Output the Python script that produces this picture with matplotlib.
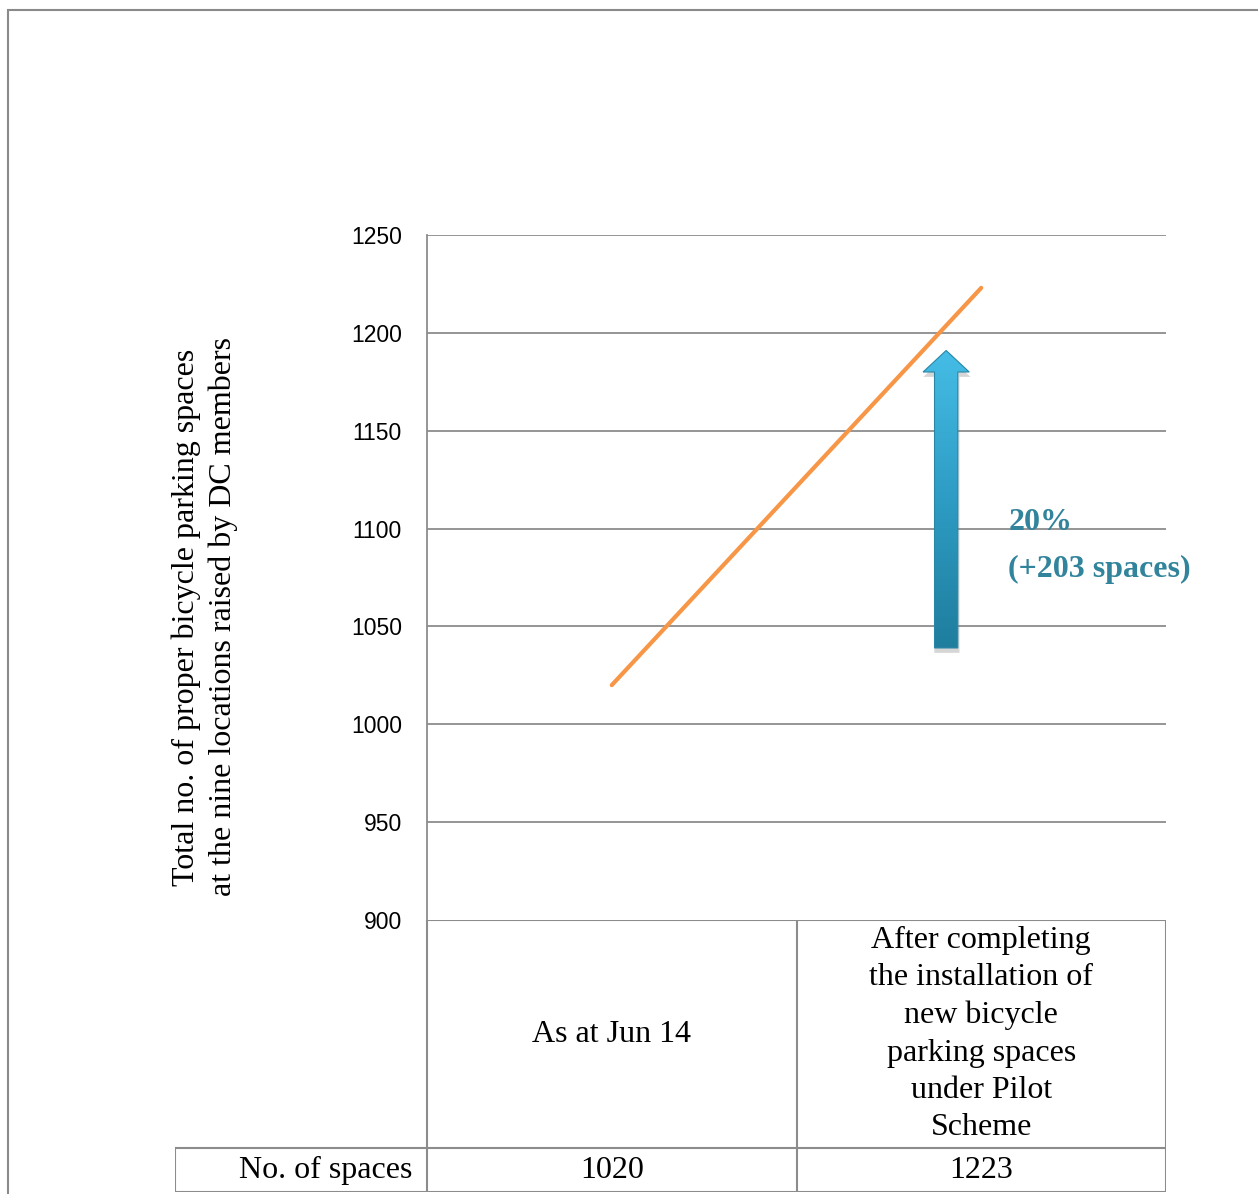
import numpy as np
import matplotlib.pyplot as plt
from matplotlib.patches import FancyArrow, Rectangle
from matplotlib.lines import Line2D
from matplotlib.colors import LinearSegmentedColormap

categories = ["As at Jun 14",
              "After completing\nthe installation of\nnew bicycle\nparking spaces\nunder Pilot\nScheme"]
spaces = [1020, 1223]
row_label = "No. of spaces"
yticks = [900, 950, 1000, 1050, 1100, 1150, 1200, 1250]
ylabel = "Total no. of proper bicycle parking spaces\nat the nine locations raised by DC members"
note = "20%\n(+203 spaces)"

W, H = 1258, 1194
fig = plt.figure(figsize=(W / 100, H / 100), dpi=100)

serif = ["Liberation Serif", "DejaVu Serif"]
narrow = ["Liberation Sans Narrow", "Liberation Sans", "DejaVu Sans"]
grid_col = "#8c8c8c"

# outer frame of the chart area (right / bottom edges cut off)
fig.patches.append(Rectangle((8 / W, -0.05), 1.2, 1 - 10 / H + 0.05,
                             transform=fig.transFigure, fill=False,
                             edgecolor="#8a8a8a", lw=1.5))

ax = fig.add_axes([427 / W, 1 - 920 / H, (1166 - 427) / W, (920 - 235) / H])
x = np.arange(len(categories)) + 0.5
ax.plot(x, spaces, color="#F79646", lw=3, solid_capstyle="round", zorder=3)

ax.set_xlim(0, len(categories))
ax.set_ylim(yticks[0], yticks[-1])
ax.set_yticks(yticks)
ax.set_yticklabels([str(t) for t in yticks], family=narrow, fontsize=16.5)
ax.set_xticks([])
ax.tick_params(axis="y", length=0, pad=18)
for t in yticks[1:]:
    ax.axhline(t, color=grid_col, lw=1.3, zorder=1)
for s in ["top", "right", "bottom"]:
    ax.spines[s].set_visible(False)
ax.spines["left"].set_color(grid_col)
ax.spines["left"].set_linewidth(1.3)

# arrow showing the increase (shadow + gradient fill)
ax.add_patch(FancyArrow(1.407, 1036.5, 0, 141, width=0.068, head_width=0.128,
                        head_length=11, length_includes_head=False,
                        facecolor="#7a7a7a", edgecolor="none", alpha=0.3, zorder=2))
arrow = FancyArrow(1.405, 1039, 0, 141, width=0.063, head_width=0.125,
                   head_length=11, length_includes_head=False,
                   facecolor="none", edgecolor="#2a86a6", lw=0.8, zorder=5)
ax.add_patch(arrow)
grad = LinearSegmentedColormap.from_list("g", ["#1F7E9E", "#2E9CC4", "#45BDE6"])
img = ax.imshow(np.linspace(0, 1, 100).reshape(-1, 1), cmap=grad, origin="lower",
                extent=(1.34, 1.47, 1039, 1192), aspect="auto", zorder=4)
img.set_clip_path(arrow)
ax.set_xlim(0, len(categories))
ax.set_ylim(yticks[0], yticks[-1])

ax.text(1.573, 1091, note, color="#31849B", family=serif, fontsize=23,
        fontweight="bold", ha="left", va="center", linespacing=1.8)

fig.text(205 / W, 1 - 617 / H, ylabel, rotation=90, ha="center", va="center",
         family=serif, fontsize=23, multialignment="center", linespacing=1.35)

# data table below the plot
tab = fig.add_axes([175 / W, 1 - 1192 / H, (1166 - 175) / W, (1192 - 920) / H])
px_per_unit = (1166 - 427) / len(categories)
tab.set_xlim(-(427 - 175) / px_per_unit, len(categories))
tab.set_ylim(0, 1)
tab.axis("off")
split = (1192 - 1148) / (1192 - 920)
lx = tab.get_xlim()[0]
lk = dict(color=grid_col, lw=1.5)
tab.add_line(Line2D([0, 2], [1, 1], **lk))
tab.add_line(Line2D([lx, 2], [split, split], **lk))
tab.add_line(Line2D([lx, 2], [0, 0], **lk))
tab.add_line(Line2D([lx, lx], [0, split], **lk))
for xv in range(len(categories) + 1):
    tab.add_line(Line2D([xv, xv], [0, 1], **lk))
for i, (c, v) in enumerate(zip(categories, spaces)):
    tab.text(i + 0.5, (1 + split) / 2, c, ha="center", va="center",
             family=serif, fontsize=23, linespacing=1.38)
    tab.text(i + 0.5, split / 2, str(v), ha="center", va="center",
             family=serif, fontsize=23)
tab.text(-0.04, split / 2, row_label, ha="right", va="center",
         family=serif, fontsize=23)

fig.savefig("out.png", dpi=100)
